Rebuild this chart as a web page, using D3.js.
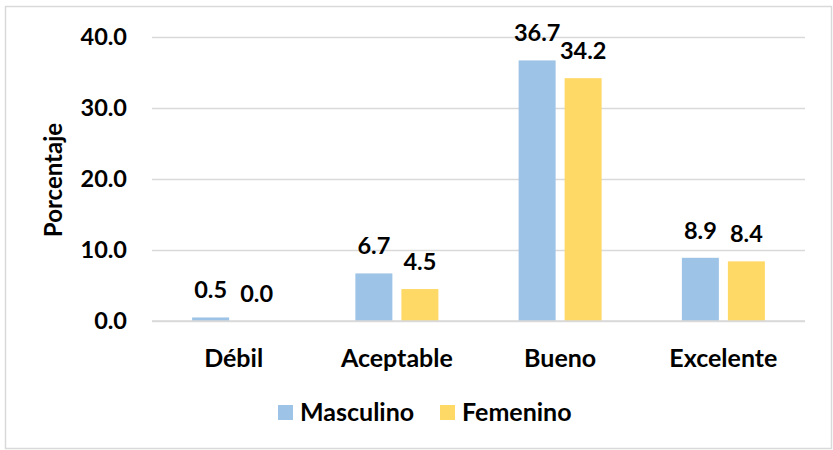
<!DOCTYPE html>
<html><head><meta charset="utf-8">
<script src="https://cdn.jsdelivr.net/npm/d3@7"></script>
<style>body{margin:0;background:#fff;} svg{display:block;} text{font-family:Lato,"Open Sans",sans-serif;font-weight:bold;fill:#000;}</style>
</head><body>
<svg id="c" width="833" height="450"></svg>
<script>
const categories = ["Débil", "Aceptable", "Bueno", "Excelente"];
const seriesNames = ["Masculino", "Femenino"];
const masculino = [0.5, 6.7, 36.7, 8.9];
const femenino = [0.0, 4.5, 34.2, 8.4];
const yTicks = [0, 10, 20, 30, 40];
const colors = ["#9DC3E6", "#FFD966"];
const seriesValues = [masculino, femenino];

(function () {
const numSize = "23.5px", wordSize = "25px";
const svg = d3.select("#c");
svg.append("rect").attr("x", 5.5).attr("y", 6.5).attr("width", 826).attr("height", 442)
  .attr("fill", "#fff").attr("stroke", "#D9D9D9").attr("stroke-width", 1.5);

const pL = 152, pR = 805, pT = 37, pB = 321;
const x0 = d3.scaleBand().domain(categories).range([pL, pR]).padding(0);
const y = d3.scaleLinear().domain([0, 40]).range([pB, pT]);
const bw = x0.bandwidth();
const x1 = d3.scaleBand().domain(seriesNames).range([bw / 2 - 41.5, bw / 2 + 41.5]).paddingInner(0.196).paddingOuter(0);

const yAxis = d3.axisLeft(y).tickValues(yTicks).tickSize(-(pR - pL)).tickFormat(d => d3.format(".1f")(d)).tickPadding(25);
const ga = svg.append("g").attr("transform", `translate(${pL},0)`).call(yAxis);
ga.select(".domain").remove();
ga.selectAll(".tick line").attr("stroke", "#D9D9D9").attr("stroke-width", 1.5);
ga.selectAll(".tick text").style("font-size", numSize).style("font-family", "Lato").style("font-weight", "bold").attr("fill", "#000");

const groups = svg.append("g").selectAll("g").data(categories).join("g")
  .attr("transform", d => `translate(${x0(d)},0)`);
groups.selectAll("rect").data((c, i) => seriesNames.map((s, j) => ({ s, j, v: seriesValues[j][i] })))
  .join("rect")
  .attr("x", d => x1(d.s)).attr("width", x1.bandwidth())
  .attr("y", d => y(d.v)).attr("height", d => y(0) - y(d.v))
  .attr("fill", d => colors[d.j]);
groups.selectAll("text.v").data((c, i) => seriesNames.map((s, j) => ({ s, j, v: seriesValues[j][i] })))
  .join("text").attr("class", "v")
  .attr("x", d => x1(d.s) + x1.bandwidth() / 2).attr("y", d => y(d.v) - 19)
  .attr("text-anchor", "middle").style("font-size", numSize)
  .text(d => d3.format(".1f")(d.v));

svg.append("line").attr("x1", pL).attr("x2", pR).attr("y1", y(0)).attr("y2", y(0))
  .attr("stroke", "#D9D9D9").attr("stroke-width", 1.5);
const xAxis = d3.axisBottom(x0).tickSize(0).tickPadding(0);
const gx = svg.append("g").attr("transform", `translate(0,${pB})`).call(xAxis);
gx.select(".domain").remove();
gx.selectAll(".tick text").attr("dy", null).attr("y", 46).style("font-size", wordSize).style("font-family", "Lato").style("font-weight", "bold").attr("fill", "#000");

svg.append("text").attr("transform", "translate(62,180) rotate(-90)").attr("text-anchor", "middle")
  .style("font-size", "24px").text("Porcentaje");

const legendX = [278, 440];
const lg = svg.append("g").selectAll("g").data(seriesNames).join("g")
  .attr("transform", (d, i) => `translate(${legendX[i]},0)`);
lg.append("rect").attr("x", 0).attr("y", 405).attr("width", 15).attr("height", 15).attr("fill", (d, i) => colors[i]);
lg.append("text").attr("x", 22).attr("y", 421).style("font-size", wordSize).text(d => d);
})();
</script>
</body></html>
